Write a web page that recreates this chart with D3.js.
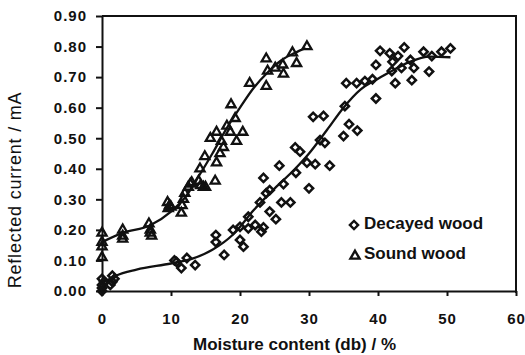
<!DOCTYPE html>
<html>
<head>
<meta charset="utf-8">
<script src="https://cdn.jsdelivr.net/npm/d3@7"></script>
<style>
  html, body { margin: 0; padding: 0; background: #fff; }
  .tick text { font-family: "Liberation Sans", Arial, sans-serif; font-weight: bold; font-size: 15px; fill: #111; letter-spacing: 1px; }
  .axis path, .axis line { stroke: #111; stroke-width: 2; }
  .axis-title { font-family: "Liberation Sans", Arial, sans-serif; fill: #111; }
  .legend text { font-family: "Liberation Sans", Arial, sans-serif; font-weight: bold; font-size: 17px; fill: #111; }
</style>
</head>
<body>
<div id="chart"></div>
<script>
// Data: moisture content (db, %) vs reflected current (mA)
const soundX = [0, 0, 0, 0, 3, 3, 3, 6.8, 7, 7.2, 7, 9.5, 9.8, 10, 9.6, 11.5, 11.6, 11.8,
  12, 12.5, 12.8, 13, 14, 14.2, 14.3, 14.7, 15, 14.9, 16.4, 16.6, 17.1, 17.6, 17.3, 15.7,
  16.6, 18.6, 19.5, 20.4, 18.1, 19.3, 18.7, 21.4, 23.8, 24.0, 23.8, 25.1, 26.2, 26.3, 27.6,
  28.2, 29.7];
const soundY = [0.19, 0.16, 0.145, 0.11, 0.20, 0.18, 0.17, 0.22, 0.20, 0.18, 0.19, 0.29, 0.28,
  0.275, 0.27, 0.255, 0.28, 0.30, 0.32, 0.34, 0.35, 0.355, 0.36, 0.40, 0.345, 0.34, 0.34, 0.44,
  0.36, 0.42, 0.45, 0.47, 0.49, 0.50, 0.52, 0.52, 0.49, 0.52, 0.54, 0.565, 0.61, 0.68, 0.67,
  0.72, 0.76, 0.73, 0.74, 0.71, 0.78, 0.745, 0.80];

const decayedX = [0, 0, 0, 0, 0.3, 1.5, 1.5, 1.8, 1.2, 10.5, 10.8, 11.5, 12.3, 13.5, 16.5, 16.5,
  17.7, 19.0, 20, 20, 20.5, 21.2, 21.2, 22.2, 23.1, 23.4, 24.3, 25.2, 22.9, 23.8, 24.3, 23.4,
  26.0, 27.3, 26.3, 25.7, 28.1, 28.7, 28.0, 29.7, 30.9, 30.0, 33.0, 31.6, 32.3, 30.6, 32.1,
  35.0, 35.8, 37.0, 35.2, 35.4, 36.9, 38.1, 39.2, 39.7, 39.7, 40.3, 41.7, 42.9, 43.8, 42.1,
  42.0, 43.4, 45.2, 44.7, 42.5, 44.9, 47.4, 46.6, 47.8, 49.2, 50.5];
const decayedY = [0.04, 0.02, 0.01, 0.0, 0.03, 0.05, 0.03, 0.04, 0.02, 0.10, 0.095, 0.075, 0.108,
  0.085, 0.183, 0.16, 0.118, 0.20, 0.21, 0.167, 0.145, 0.243, 0.205, 0.216, 0.194, 0.208, 0.26,
  0.235, 0.29, 0.32, 0.33, 0.37, 0.29, 0.29, 0.35, 0.41, 0.387, 0.456, 0.47, 0.42, 0.415, 0.336,
  0.41, 0.494, 0.485, 0.57, 0.573, 0.507, 0.546, 0.525, 0.605, 0.68, 0.68, 0.687, 0.693, 0.63,
  0.74, 0.786, 0.778, 0.769, 0.797, 0.75, 0.72, 0.73, 0.73, 0.756, 0.68, 0.69, 0.718, 0.783,
  0.769, 0.783, 0.794];

// fitted trend lines
const soundFitX = [0, 3, 7, 10, 12, 14, 16, 18, 20, 22, 24, 26, 28, 29.5];
const soundFitY = [0.16, 0.19, 0.215, 0.26, 0.305, 0.375, 0.45, 0.53, 0.60, 0.665, 0.715, 0.755, 0.78, 0.795];
const decayedFitX = [0, 2, 5, 10, 13, 16, 19, 22, 25, 28, 30, 32.6, 35, 37.5, 40, 42, 44.6, 47.5, 50.5];
const decayedFitY = [0.025, 0.05, 0.07, 0.09, 0.105, 0.135, 0.185, 0.265, 0.335, 0.40, 0.45, 0.527,
  0.60, 0.66, 0.695, 0.72, 0.75, 0.767, 0.765];

const xTicks = [0, 10, 20, 30, 40, 50, 60];
const yTicks = [0, 0.1, 0.2, 0.3, 0.4, 0.5, 0.6, 0.7, 0.8, 0.9];
const legendLabels = ["Decayed wood", "Sound wood"];

(function() {
  const fullW = 525, fullH = 355;
  const margin = { top: 16, right: 9, bottom: 64, left: 102 };
  const W = fullW - margin.left - margin.right;
  const H = fullH - margin.top - margin.bottom;

  const svg = d3.select("#chart")
    .append("svg")
    .attr("width", fullW)
    .attr("height", fullH);

  const g = svg.append("g").attr("transform", `translate(${margin.left},${margin.top})`);

  const x = d3.scaleLinear().domain([0, 60]).range([0, W]);
  const y = d3.scaleLinear().domain([0, 0.9]).range([H, 0]);

  // frame (top + right)
  g.append("line").attr("x1", 0).attr("x2", W).attr("y1", 0).attr("y2", 0)
    .attr("stroke", "#111").attr("stroke-width", 2);
  g.append("line").attr("x1", W).attr("x2", W).attr("y1", -1).attr("y2", H + 2)
    .attr("stroke", "#111").attr("stroke-width", 2);

  // Axes
  g.append("g").attr("class", "axis")
    .attr("transform", `translate(0,${H})`)
    .call(d3.axisBottom(x).tickValues(xTicks).tickSize(5).tickSizeOuter(0).tickPadding(17))
    .call(a => a.select(".domain").attr("stroke-width", 2.5));

  g.append("g").attr("class", "axis")
    .call(d3.axisLeft(y).tickValues(yTicks).tickFormat(d3.format(".2f")).tickSize(6).tickSizeOuter(0).tickPadding(9));

  // Axis titles
  g.append("text")
    .attr("class", "axis-title")
    .attr("text-anchor", "middle")
    .attr("x", 294.5 - margin.left)
    .attr("y", 350 - margin.top)
    .style("font-weight", "bold")
    .style("font-size", "17px")
    .text("Moisture content (db) / %");

  g.append("text")
    .attr("class", "axis-title")
    .attr("text-anchor", "middle")
    .attr("transform", `translate(${21 - margin.left},${190 - margin.top}) rotate(-90)`)
    .style("font-size", "18px")
    .style("letter-spacing", "0.8px")
    .text("Reflected current / mA");

  // Trend lines
  const line = d3.line()
    .x(d => x(d[0]))
    .y(d => y(d[1]))
    .curve(d3.curveMonotoneX);

  const fits = [d3.zip(decayedFitX, decayedFitY), d3.zip(soundFitX, soundFitY)];
  g.selectAll(".fit").data(fits).enter()
    .append("path")
    .attr("class", "fit")
    .attr("fill", "none")
    .attr("stroke", "#111")
    .attr("stroke-width", 2.3);

  g.selectAll(".fit").attr("d", line);

  // Markers
  const diamond = d3.symbol().type(d3.symbolSquare).size(34)();
  const triangle = d3.symbol().type(d3.symbolTriangle).size(36)();

  g.selectAll(".decayed").data(d3.zip(decayedX, decayedY)).enter()
    .append("path")
    .attr("class", "decayed")
    .attr("d", diamond)
    .attr("transform", d => `translate(${x(d[0])},${y(d[1])}) rotate(45)`)
    .attr("fill", "none")
    .attr("stroke", "#111")
    .attr("stroke-width", 2.5);

  g.selectAll(".sound").data(d3.zip(soundX, soundY)).enter()
    .append("path")
    .attr("class", "sound")
    .attr("d", triangle)
    .attr("transform", d => `translate(${x(d[0])},${y(d[1])})`)
    .attr("fill", "none")
    .attr("stroke", "#111")
    .attr("stroke-width", 2.3);

  // Legend
  const legend = svg.append("g").attr("class", "legend");
  const items = legend.selectAll("g").data(legendLabels).enter()
    .append("g")
    .attr("transform", (d, i) => `translate(354,${225 + i * 30})`);

  items.append("path")
    .attr("d", (d, i) => i === 0 ? diamond : triangle)
    .attr("transform", (d, i) => i === 0 ? "rotate(45)" : "translate(1,1)")
    .attr("fill", "none")
    .attr("stroke", "#111")
    .attr("stroke-width", 2.4);

  items.append("text")
    .attr("x", 10)
    .attr("y", 4)
    .text(d => d);
})();
</script>
</body>
</html>
